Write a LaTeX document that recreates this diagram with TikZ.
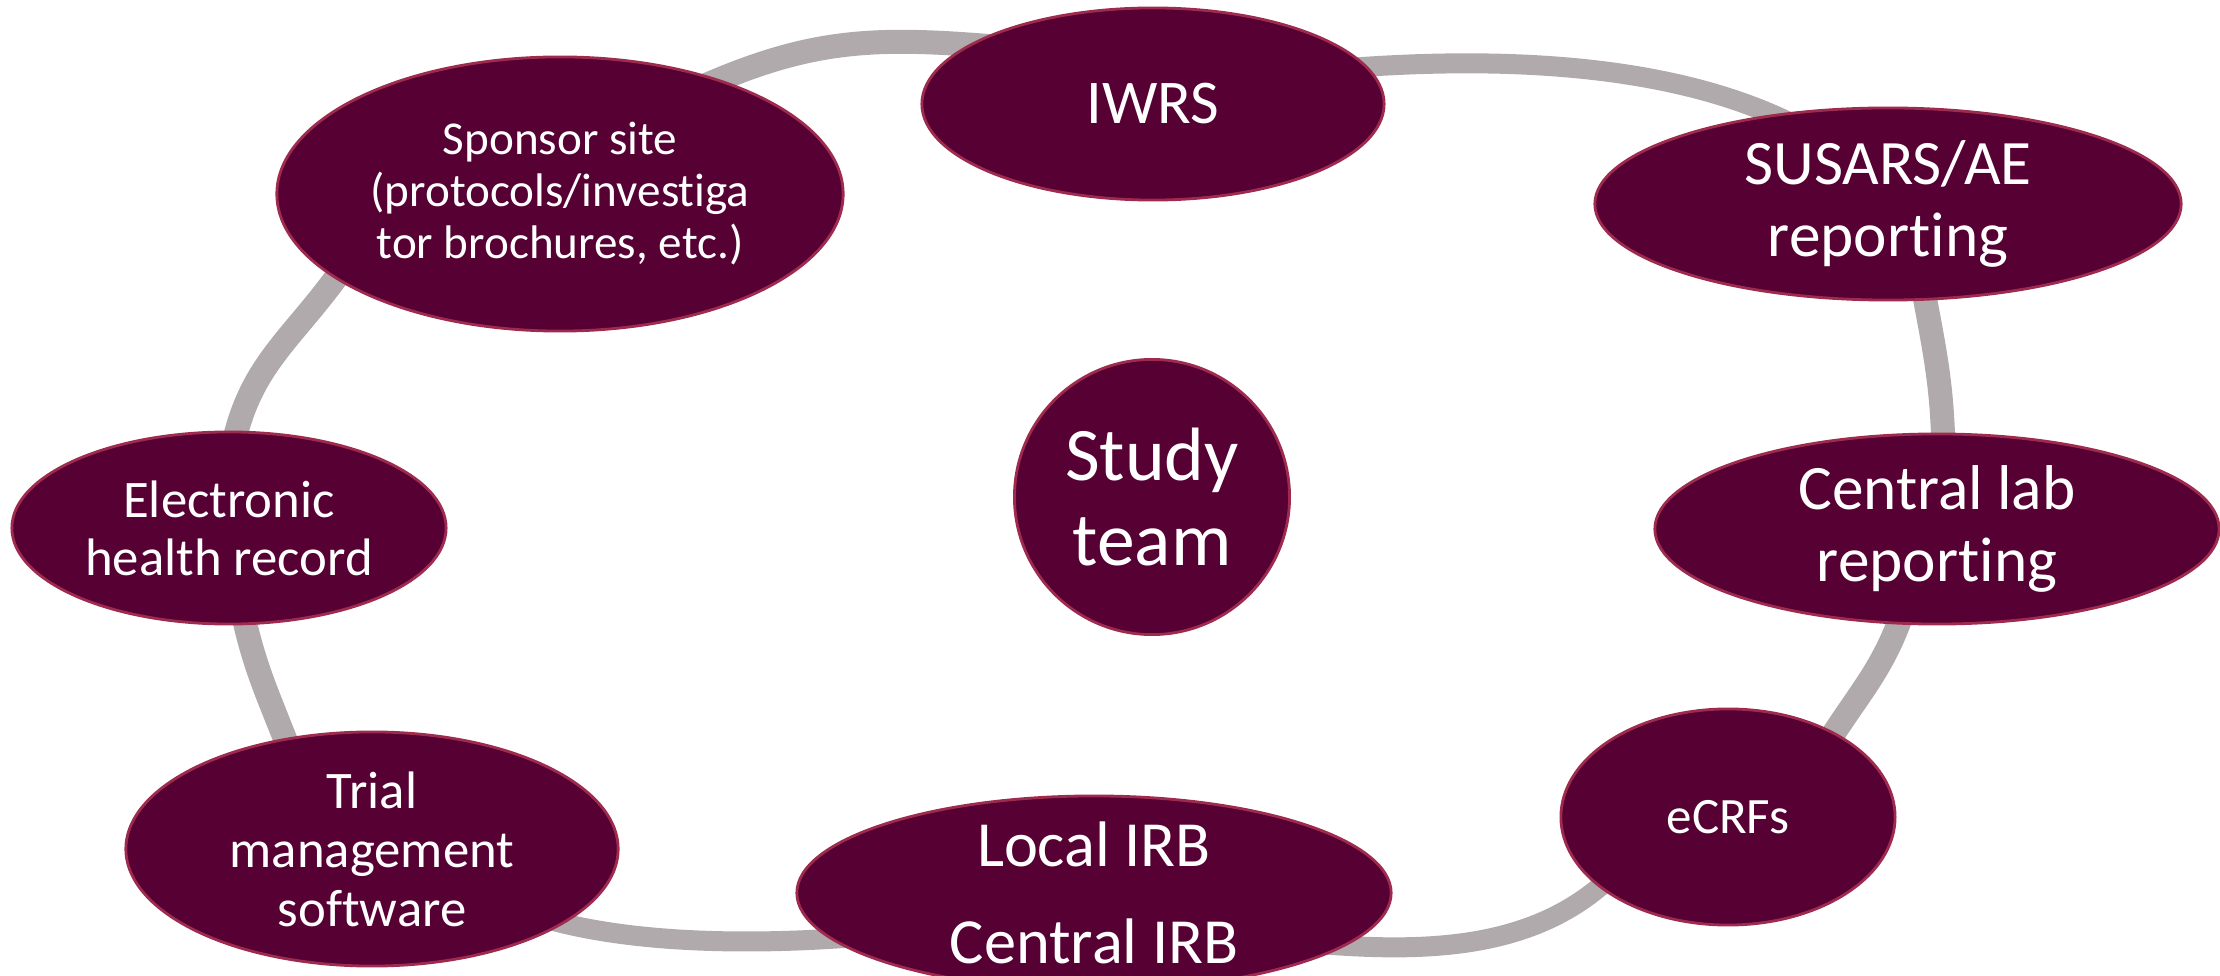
\documentclass[tikz,border=0pt]{standalone}
\usepackage{fontspec}
\setmainfont{Carlito}[Ligatures=NoCommon]
\usetikzlibrary{shapes.geometric,backgrounds}
\definecolor{maroon}{RGB}{86,0,52}
\definecolor{rim}{RGB}{158,42,78}
\definecolor{ringgray}{RGB}{177,170,172}
\begin{document}
\begin{tikzpicture}[x=0.01cm,y=0.01cm,
  bub/.style={ellipse, fill=maroon, draw=rim, line width=0.8pt, text=white, inner sep=-30pt, align=center},
  ringthin/.style={draw=ringgray, line width=0.20cm, shorten <=-12pt, shorten >=-12pt},
  ringthick/.style={draw=ringgray, line width=0.24cm, shorten <=-12pt, shorten >=-12pt}]
\useasboundingbox (0,0) rectangle (2220,975);

\node[bub, minimum width=5.66cm, minimum height=2.74cm, font={\fontsize{13.4pt}{14.8pt}\selectfont}] (sponsor) at (560,781) {Sponsor site\\(protocols/investiga\\tor brochures, etc.)};
\node[bub, minimum width=4.62cm, minimum height=1.92cm, font={\fontsize{17.7pt}{20pt}\selectfont}] (iwrs) at (1153,871) {IWRS};
\node[bub, minimum width=5.86cm, minimum height=1.92cm, font={\fontsize{18pt}{20.5pt}\selectfont}] (susars) at (1888,771) {SUSARS/AE\\reporting};
\node[bub, minimum width=5.64cm, minimum height=1.90cm, font={\fontsize{18pt}{20.3pt}\selectfont}] (central) at (1937,446) {Central lab\\reporting};
\node[bub, minimum width=3.34cm, minimum height=2.16cm, font={\fontsize{14.5pt}{16pt}\selectfont}] (ecrfs) at (1728,158) {eCRFs};
\node[bub, minimum width=5.94cm, minimum height=1.94cm, font={\fontsize{18.3pt}{27.6pt}\selectfont}] (local) at (1094,82) {Local IRB\\Central IRB};
\node[bub, minimum width=4.92cm, minimum height=2.34cm, font={\fontsize{15pt}{16.8pt}\selectfont}] (trial) at (372,126) {Trial\\management\\software};
\node[bub, minimum width=4.34cm, minimum height=1.92cm, font={\fontsize{15pt}{16.5pt}\selectfont}] (ehr) at (229,447) {Electronic\\health record};
\node[bub, circle, minimum size=2.75cm, font={\fontsize{21.5pt}{24.2pt}\selectfont}] (study) at (1152,478) {Study\\team};

\begin{pgfonlayer}{background}
\draw[ringthick] (sponsor.36) to[out=25,in=175] (iwrs.162);
\draw[ringthin] (iwrs.10) to[out=5,in=150,looseness=0.7] (susars.141);
\draw[ringthick] (susars.291) to[out=280,in=90] (central.86);
\draw[ringthick] (central.249) to[out=255,in=60] (ecrfs.39);
\draw[ringthin] (ecrfs.210) to[out=230,in=355,looseness=0.8] (local.348);
\draw[ringthin] (local.190) to[out=185,in=340,looseness=0.6] (trial.338);
\draw[ringthick] (trial.128) to[out=110,in=280] (ehr.279);
\draw[ringthick] (ehr.87) to[out=82,in=238,looseness=1.05] (sponsor.201);
\end{pgfonlayer}
\end{tikzpicture}
\end{document}
